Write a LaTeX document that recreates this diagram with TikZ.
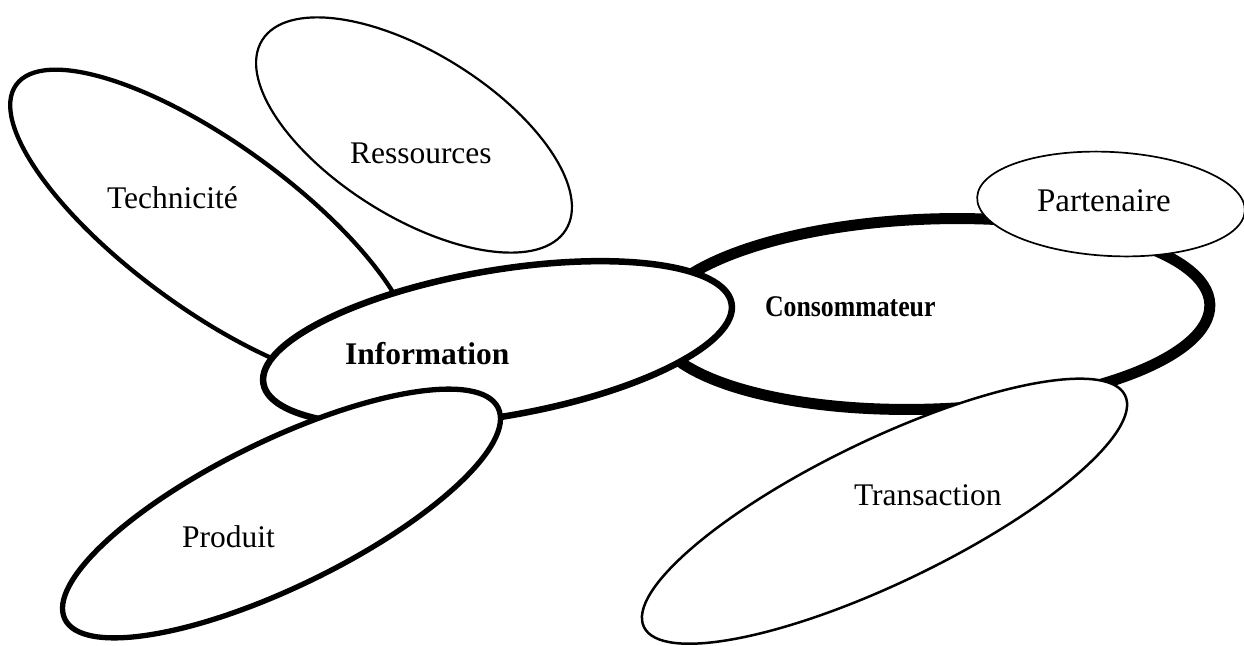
\documentclass[tikz,border=0pt]{standalone}
\usepackage{fontspec}
\setmainfont{Liberation Serif}
\usetikzlibrary{shapes.geometric}
\tikzset{
  blob/.style={ellipse, draw=black, fill=white, inner sep=0pt, outer sep=0pt},
  lbl/.style={anchor=base west, inner sep=0pt, outer sep=0pt, font=\fontsize{31.5}{36}\selectfont},
}
\begin{document}
\begin{tikzpicture}[x=1pt,y=-1pt]
\clip (0,0) rectangle (1244,645);
\fill[white] (0,0) rectangle (1244,645);
% ellipses, back to front
\node[blob, line width=4.3pt, minimum width=484pt, minimum height=166pt, rotate=-36] (tech) at (212,227) {};
\node[blob, line width=2.2pt, minimum width=358pt, minimum height=164pt, rotate=-32] (res) at (414,135) {};
\node[blob, line width=11pt, minimum width=556pt, minimum height=190pt, rotate=2] (cons) at (932,314) {};
\node[blob, line width=6.5pt, minimum width=475pt, minimum height=146pt, rotate=9.7] (info) at (497.5,343.5) {};
\node[blob, line width=5.3pt, minimum width=482pt, minimum height=146pt, rotate=26] (prod) at (281.5,513.5) {};
\node[blob, line width=1.7pt, minimum width=268pt, minimum height=104pt, rotate=-3] (part) at (1111,204) {};
\node[blob, line width=2.5pt, minimum width=534pt, minimum height=143pt, rotate=25.7] (trans) at (884.5,511.2) {};
% labels
\node[lbl] (ttech) at (107,208) {Technicité};
\node[lbl] (tres) at (350,163) {Ressources};
\node[lbl, font=\fontsize{31.5}{36}\selectfont\bfseries] (tinfo) at (345,364) {Information};
\node[lbl, font=\fontsize{30}{36}\selectfont\bfseries] (tcons) at (765,316) {\scalebox{0.86}[1]{Consommateur}};
\node[lbl, font=\fontsize{33}{38}\selectfont] (tpart) at (1037,211) {Partenaire};
\node[lbl] (ttrans) at (854,505) {Transaction};
\node[lbl] (tprod) at (182,547) {Produit};
\end{tikzpicture}
\end{document}
